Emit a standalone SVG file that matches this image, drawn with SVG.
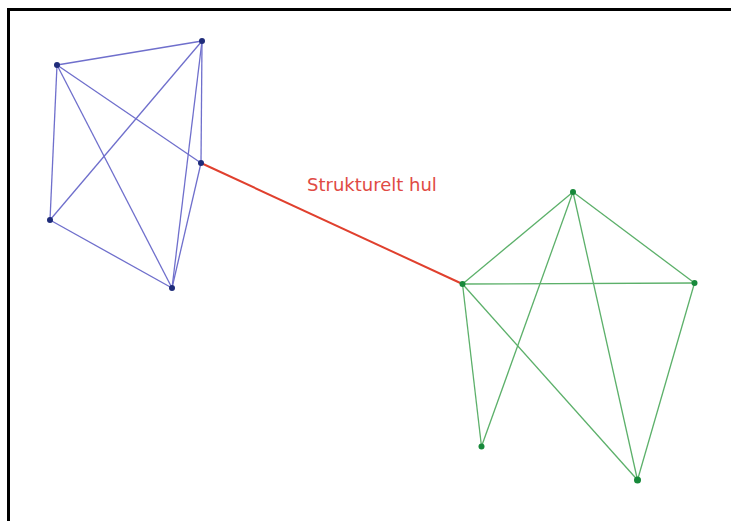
<svg xmlns="http://www.w3.org/2000/svg" width="731" height="521" viewBox="0 0 731 521">
<style>
.b{stroke:#6f6fcc;stroke-width:1.3;fill:none}
.g{stroke:#5cb06a;stroke-width:1.3;fill:none}
.r{stroke:#e0402e;stroke-width:2;fill:none}
.nb{fill:#1f2c7a}
.ng{fill:#17893a}
.lbl{font-family:"DejaVu Sans",sans-serif;font-size:18px;fill:#e04a44}
</style>
<rect width="731" height="521" fill="#fff"/>
<path d="M8.5,521 V9.5 H731" fill="none" stroke="#000" stroke-width="3"/>
<g id="connectors">
<line class="b" x1="57" y1="65" x2="202" y2="41"/>
<line class="b" x1="57" y1="65" x2="201" y2="163"/>
<line class="b" x1="57" y1="65" x2="50" y2="220"/>
<line class="b" x1="57" y1="65" x2="172" y2="288"/>
<line class="b" x1="202" y1="41" x2="201" y2="163"/>
<line class="b" x1="202" y1="41" x2="50" y2="220"/>
<line class="b" x1="202" y1="41" x2="172" y2="288"/>
<line class="b" x1="50" y1="220" x2="172" y2="288"/>
<line class="b" x1="201" y1="163" x2="172" y2="288"/>
<line class="g" x1="462.5" y1="284" x2="573" y2="192"/>
<line class="g" x1="573" y1="192" x2="694.5" y2="283"/>
<line class="g" x1="462.5" y1="284" x2="694.5" y2="283"/>
<line class="g" x1="462.5" y1="284" x2="481.5" y2="446.5"/>
<line class="g" x1="573" y1="192" x2="481.5" y2="446.5"/>
<line class="g" x1="573" y1="192" x2="637.5" y2="480"/>
<line class="g" x1="694.5" y1="283" x2="637.5" y2="480"/>
<line class="g" x1="462.5" y1="284" x2="637.5" y2="480"/>
<line class="r" x1="201" y1="163" x2="462.5" y2="284"/>
</g>
<g id="label"><text class="lbl" x="307" y="191">Strukturelt hul</text></g>
<g id="n1"><circle class="nb" cx="57" cy="65" r="3"/></g>
<g id="n2"><circle class="nb" cx="202" cy="41" r="3"/></g>
<g id="n3"><circle class="nb" cx="201" cy="163" r="3"/></g>
<g id="n4"><circle class="nb" cx="50" cy="220" r="3"/></g>
<g id="n5"><circle class="nb" cx="172" cy="288" r="3"/></g>
<g id="n6"><circle class="ng" cx="462.5" cy="284" r="3"/></g>
<g id="n7"><circle class="ng" cx="573" cy="192" r="3"/></g>
<g id="n8"><circle class="ng" cx="694.5" cy="283" r="3"/></g>
<g id="n9"><circle class="ng" cx="481.5" cy="446.5" r="3"/></g>
<g id="n10"><circle class="ng" cx="637.5" cy="480" r="3.5"/></g>
</svg>
